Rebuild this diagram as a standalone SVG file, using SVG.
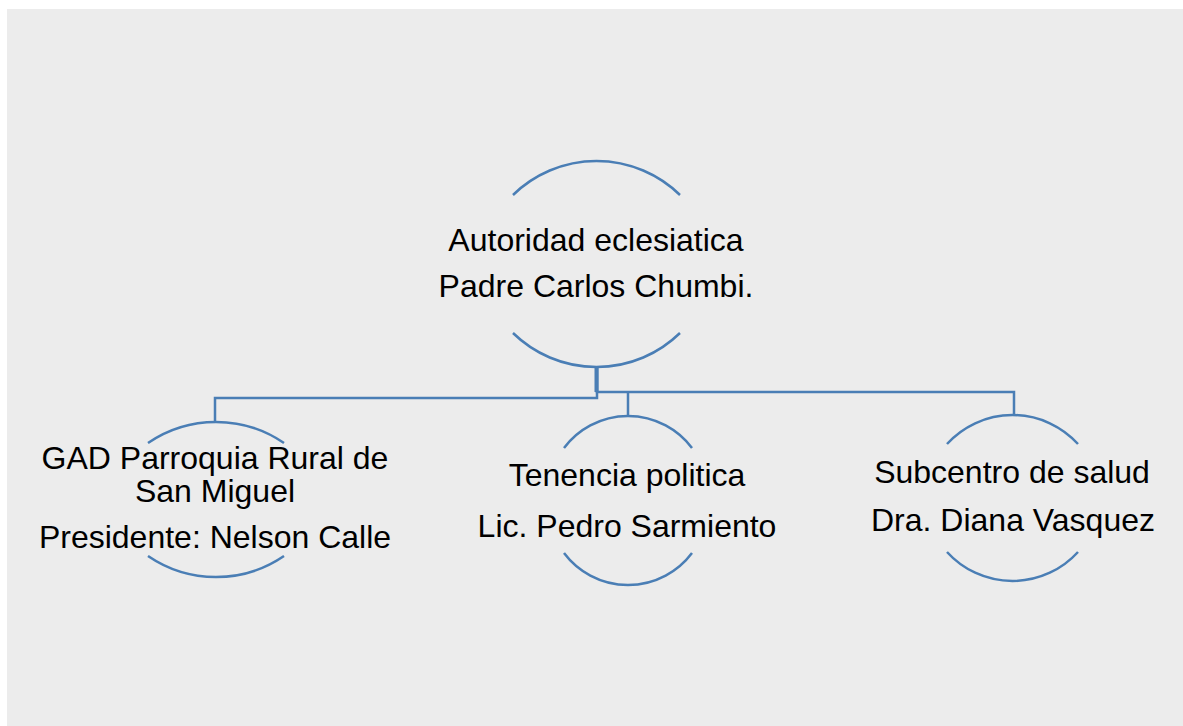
<svg xmlns="http://www.w3.org/2000/svg" width="1183" height="726" viewBox="0 0 1183 726">
<style>
.arc{fill:none;stroke:#4A7EB5;stroke-width:2.5;stroke-linecap:butt}
.conn{fill:none;stroke:#4A7EB5;stroke-width:2.5}
.t{font-family:"Liberation Sans",Arial,sans-serif;font-size:32px;fill:#000;text-anchor:middle}
</style>
<rect x="0" y="0" width="1183" height="726" fill="#FFFFFF"/>
<rect x="7" y="9" width="1176" height="717" fill="#ECECEC"/>
<g id="connectors">
<path class="conn" d="M597 368 V398 H215 V421"/>
<path class="conn" d="M597 368 V392 H1014 V415"/>
<path class="conn" d="M628 392 V416"/>
<path class="conn" d="M596.5 368 V392" style="stroke-width:4"/>
</g>
<g id="node-autoridad">
<path class="arc" d="M513 195 A119.5 119.5 0 0 1 680 195"/>
<path class="arc" d="M513 333 A119.5 119.5 0 0 0 680 333"/>
<text class="t" x="596" y="251">Autoridad eclesiatica</text>
<text class="t" x="596" y="297">Padre Carlos Chumbi.</text>
</g>
<g id="node-gad">
<path class="arc" d="M148 443 A120.6 120.6 0 0 1 284 443"/>
<path class="arc" d="M148 556 A120.6 120.6 0 0 0 284 556"/>
<text class="t" x="215" y="469">GAD Parroquia Rural de</text>
<text class="t" x="215" y="502">San Miguel</text>
<text class="t" x="215" y="548">Presidente: Nelson Calle</text>
</g>
<g id="node-tenencia">
<path class="arc" d="M564 448 A80 80 0 0 1 692 448"/>
<path class="arc" d="M564 553 A80 80 0 0 0 692 553"/>
<text class="t" x="627" y="486">Tenencia politica</text>
<text class="t" x="627" y="537">Lic. Pedro Sarmiento</text>
</g>
<g id="node-subcentro">
<path class="arc" d="M947 444 A88.5 88.5 0 0 1 1078 444"/>
<path class="arc" d="M947 552 A88.5 88.5 0 0 0 1078 552"/>
<text class="t" x="1012" y="483">Subcentro de salud</text>
<text class="t" x="1013" y="531">Dra. Diana Vasquez</text>
</g>
</svg>
